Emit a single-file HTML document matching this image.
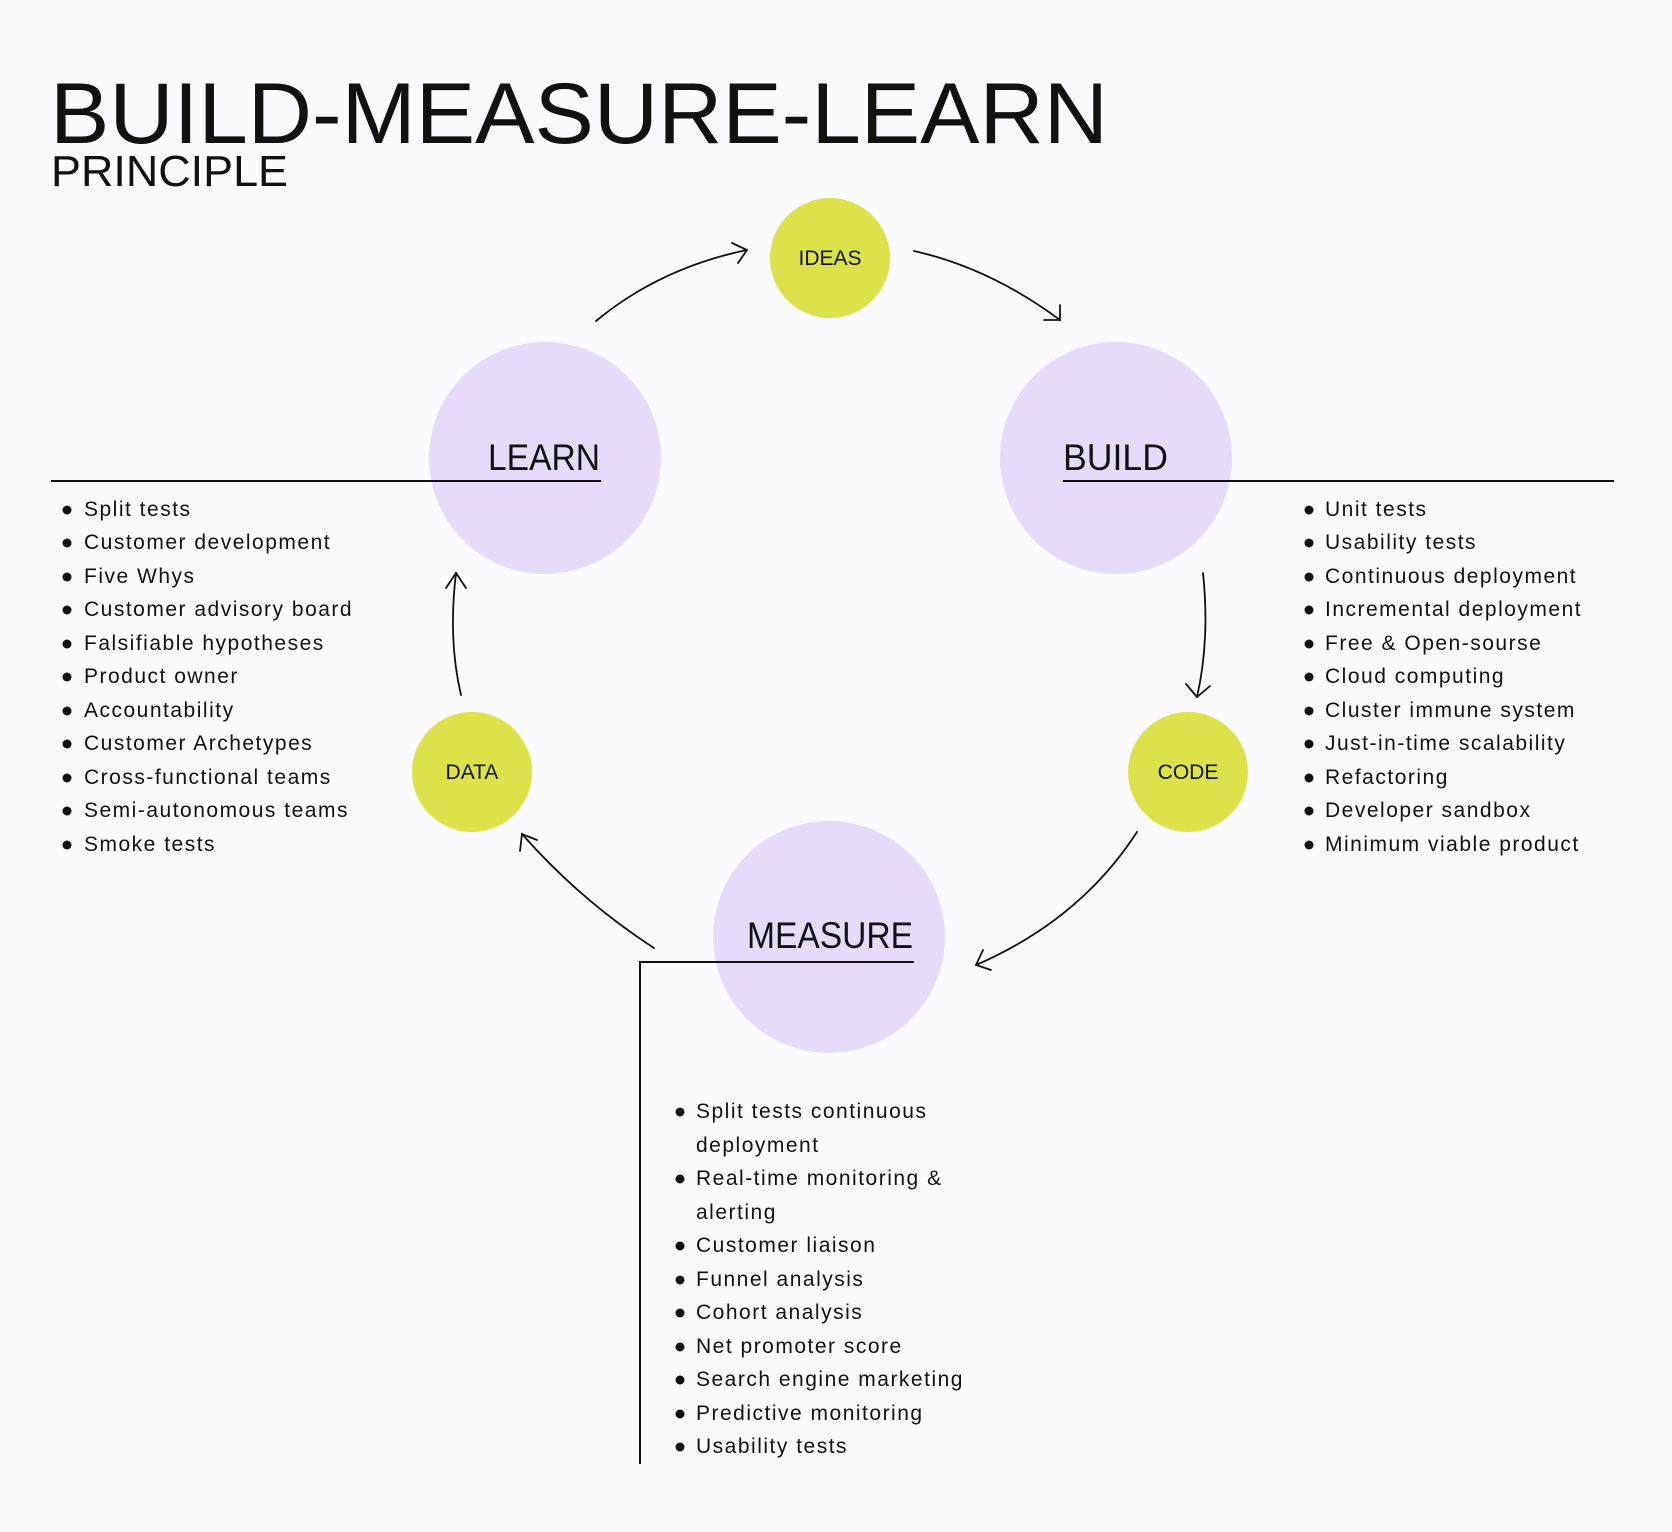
<!DOCTYPE html>
<html><head><meta charset="utf-8"><style>
html,body{margin:0;padding:0;background:#fafaff;}
svg{display:block;font-family:"Liberation Sans",sans-serif;}
</style></head><body>
<svg width="1672" height="1532" viewBox="0 0 1672 1532" xmlns="http://www.w3.org/2000/svg">
<rect width="1672" height="1532" fill="#fafaff"/>
<text x="50" y="143" font-size="86" fill="#111" textLength="1058" lengthAdjust="spacingAndGlyphs">BUILD-MEASURE-LEARN</text>
<text x="51" y="186" font-size="44" fill="#111" textLength="237" lengthAdjust="spacingAndGlyphs">PRINCIPLE</text>

<circle cx="545" cy="458" r="116" fill="#e6dcfa"/>
<circle cx="1116" cy="458" r="116" fill="#e6dcfa"/>
<circle cx="829" cy="937" r="116" fill="#e6dcfa"/>
<circle cx="830" cy="258" r="60" fill="#dce24a"/>
<circle cx="472" cy="772" r="60" fill="#dce24a"/>
<circle cx="1188" cy="772" r="60" fill="#dce24a"/>

<g font-size="21" fill="#111" text-anchor="middle">
<text x="830" y="265">IDEAS</text>
<text x="472" y="779">DATA</text>
<text x="1188" y="779">CODE</text>
</g>
<g font-size="37" fill="#111">
<text x="488" y="470" textLength="112" lengthAdjust="spacingAndGlyphs">LEARN</text>
<text x="1063" y="470" textLength="105" lengthAdjust="spacingAndGlyphs">BUILD</text>
<text x="747" y="948" textLength="166" lengthAdjust="spacingAndGlyphs">MEASURE</text>
</g>
<g stroke="#111" stroke-width="2" fill="none">
<line x1="51" y1="481" x2="601" y2="481"/>
<line x1="1063" y1="481" x2="1614" y2="481"/>
<polyline points="640,1464 640,962 914,962"/>
</g>
<g stroke="#111" stroke-width="1.8" fill="none" stroke-linecap="round">
<path d="M596,321 Q660,268 747,250"/><path d="M732,243 L747,250 L738,263"/>
<path d="M914,251 Q990,268 1060,320"/><path d="M1060,305 L1060,320 L1044,320"/>
<path d="M1203,573 Q1210,640 1197,697"/><path d="M1186,684 L1197,697 L1210,686"/>
<path d="M1137,832 Q1080,920 976,965"/><path d="M983,950 L976,965 L991,970"/>
<path d="M654,948 Q580,900 522,834"/><path d="M520,851 L522,834 L537,840"/>
<path d="M461,695 Q448,640 456,573"/><path d="M446,588 L456,573 L466,588"/>
</g>

<g font-size="21" fill="#111" letter-spacing="1.5">
<g>
<text x="84" y="516">Split tests</text>
<text x="84" y="549">Customer development</text>
<text x="84" y="583">Five Whys</text>
<text x="84" y="616">Customer advisory board</text>
<text x="84" y="650">Falsifiable hypotheses</text>
<text x="84" y="683">Product owner</text>
<text x="84" y="717">Accountability</text>
<text x="84" y="750">Customer Archetypes</text>
<text x="84" y="784">Cross-functional teams</text>
<text x="84" y="817">Semi-autonomous teams</text>
<text x="84" y="851">Smoke tests</text>
</g>
<g>
<text x="1325" y="516">Unit tests</text>
<text x="1325" y="549">Usability tests</text>
<text x="1325" y="583">Continuous deployment</text>
<text x="1325" y="616">Incremental deployment</text>
<text x="1325" y="650">Free &amp; Open-sourse</text>
<text x="1325" y="683">Cloud computing</text>
<text x="1325" y="717">Cluster immune system</text>
<text x="1325" y="750">Just-in-time scalability</text>
<text x="1325" y="784">Refactoring</text>
<text x="1325" y="817">Developer sandbox</text>
<text x="1325" y="851">Minimum viable product</text>
</g>
<g>
<text x="696" y="1118">Split tests continuous</text>
<text x="696" y="1152">deployment</text>
<text x="696" y="1185">Real-time monitoring &amp;</text>
<text x="696" y="1219">alerting</text>
<text x="696" y="1252">Customer liaison</text>
<text x="696" y="1286">Funnel analysis</text>
<text x="696" y="1319">Cohort analysis</text>
<text x="696" y="1353">Net promoter score</text>
<text x="696" y="1386">Search engine marketing</text>
<text x="696" y="1420">Predictive monitoring</text>
<text x="696" y="1453">Usability tests</text>
</g>
</g>
<g fill="#111">
<circle cx="67" cy="510" r="4.5"/><circle cx="67" cy="543" r="4.5"/><circle cx="67" cy="577" r="4.5"/><circle cx="67" cy="610" r="4.5"/><circle cx="67" cy="644" r="4.5"/><circle cx="67" cy="677" r="4.5"/><circle cx="67" cy="711" r="4.5"/><circle cx="67" cy="744" r="4.5"/><circle cx="67" cy="778" r="4.5"/><circle cx="67" cy="811" r="4.5"/><circle cx="67" cy="845" r="4.5"/>
<circle cx="1309" cy="510" r="4.5"/><circle cx="1309" cy="543" r="4.5"/><circle cx="1309" cy="577" r="4.5"/><circle cx="1309" cy="610" r="4.5"/><circle cx="1309" cy="644" r="4.5"/><circle cx="1309" cy="677" r="4.5"/><circle cx="1309" cy="711" r="4.5"/><circle cx="1309" cy="744" r="4.5"/><circle cx="1309" cy="778" r="4.5"/><circle cx="1309" cy="811" r="4.5"/><circle cx="1309" cy="845" r="4.5"/>
<circle cx="680" cy="1112" r="4.5"/><circle cx="680" cy="1179" r="4.5"/><circle cx="680" cy="1246" r="4.5"/><circle cx="680" cy="1280" r="4.5"/><circle cx="680" cy="1313" r="4.5"/><circle cx="680" cy="1347" r="4.5"/><circle cx="680" cy="1380" r="4.5"/><circle cx="680" cy="1414" r="4.5"/><circle cx="680" cy="1447" r="4.5"/>
</g>
</svg>
</body></html>
